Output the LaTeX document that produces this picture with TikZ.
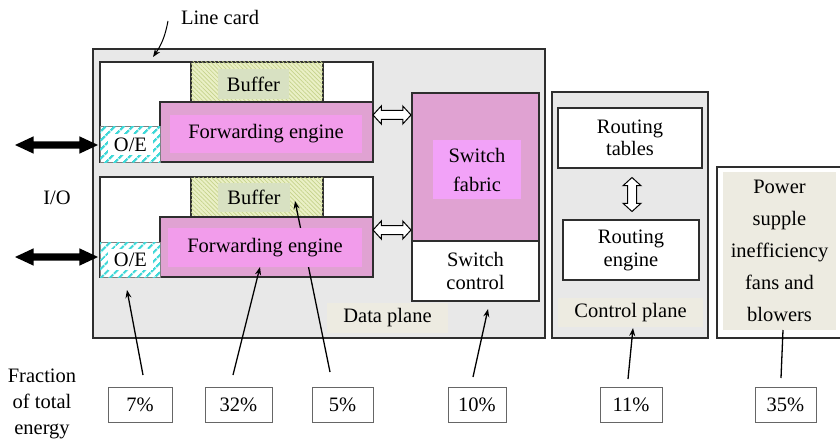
\documentclass[tikz,border=0pt]{standalone}
\usepackage{fontspec}
\setmainfont{Liberation Serif}
\usetikzlibrary{shapes.arrows,patterns.meta,arrows.meta,calc}
\definecolor{bggray}{HTML}{E8E8E8}
\definecolor{bordc}{HTML}{2E2E2E}
\definecolor{fepink}{HTML}{E0A2D2}
\definecolor{felab}{HTML}{F29CEB}
\definecolor{sflab}{HTML}{F2A2F8}
\definecolor{beige}{HTML}{EDEBE1}
\definecolor{bufbase}{HTML}{EAF0C6}
\definecolor{bufline}{HTML}{C6D38C}
\definecolor{buflab}{HTML}{D8E1C2}
\definecolor{oecyan}{HTML}{3FD8D8}
\newcommand\mkbox[7]{\node[#6, anchor=north west, inner sep=0pt, outer sep=0pt, minimum width={(#4-#2)*1pt}, minimum height={(#5-#3)*1pt}] (#1) at (#2,#3) {#7};}
\tikzset{
  every node/.style={font=\fontsize{20.5}{24}\selectfont},
  frame/.style={draw=bordc, line width=1.6pt},
  graybox/.style={frame, fill=bggray},
  whitebox/.style={frame, fill=white},
  febox/.style={frame, fill=fepink},
  felabel/.style={fill=felab},
  bufbox/.style={frame, fill=bufbase, postaction={pattern={Lines[angle=-45,distance=3pt,line width=0.7pt]}, pattern color=bufline}},
  buflabel/.style={fill=buflab},
  oebox/.style={draw=gray, line width=1pt, fill=white, postaction={pattern={Lines[angle=45,distance=6.5pt,line width=2.6pt]}, pattern color=oecyan}},
  beigelabel/.style={fill=beige},
  pctbox/.style={draw=gray!80!black, line width=0.9pt, fill=white},
  conn/.style={draw=black, line width=1.3pt, -{Stealth[length=8pt,width=6pt]}},
  hollow/.style={double arrow, draw=black, fill=white, line width=1pt, inner sep=4pt, double arrow head extend=4.5pt, double arrow tip angle=95},
  ioarrow/.style={double arrow, fill=black, inner sep=3.5pt, minimum height=83pt, double arrow head extend=5pt, double arrow tip angle=50}
}
\begin{document}
\begin{tikzpicture}[x=1pt,y=-1pt]
\useasboundingbox (0,0) rectangle (840,441);
\clip (0,0) rectangle (840,441);
% planes
\mkbox{dp}{93}{49}{545}{338}{graybox}{}
\mkbox{cp}{552}{92}{708}{338}{graybox}{}
\mkbox{pw}{717}{167}{848}{338}{whitebox}{}
\mkbox{pwl}{723}{172}{836}{330}{beigelabel, align=center, font=\fontsize{20.5}{32}\selectfont}{Power\\supple\\inefficiency\\fans and\\blowers}
% line card 1
\mkbox{lc1}{100}{62}{373}{162}{whitebox}{}
\mkbox{buf1}{191}{62}{323}{102}{bufbox}{}
\mkbox{buf1l}{218}{69}{289}{99}{buflabel}{Buffer}
\mkbox{fe1}{160}{102}{373}{162}{febox}{}
\mkbox{fe1l}{170}{115}{362}{153}{felabel}{Forwarding engine}
\mkbox{oe1}{100}{127}{160}{162}{oebox}{}
\mkbox{oe1l}{108}{134}{153}{155}{fill=white}{O/E}
% line card 2
\mkbox{lc2}{100}{177}{373}{277}{whitebox}{}
\mkbox{buf2}{191}{177}{323}{217}{bufbox}{}
\mkbox{buf2l}{218}{183}{290}{212}{buflabel}{Buffer}
\mkbox{fe2}{160}{217}{373}{277}{febox}{}
\coordinate (s5) at (330,372);
\coordinate (t5) at (295,201);
\draw[conn] (s5) -- (t5);
\mkbox{fe2l}{168}{228}{362}{267}{felabel}{Forwarding engine}
\mkbox{oe2}{100}{242}{160}{277}{oebox}{}
\mkbox{oe2l}{108}{249}{153}{270}{fill=white}{O/E}
% switch
\mkbox{sf}{412}{93}{539}{241}{febox}{}
\mkbox{sfl}{433}{140}{521}{199}{fill=sflab, align=center, font=\fontsize{20.5}{29}\selectfont}{Switch\\fabric}
\mkbox{sc}{412}{241}{539}{301}{whitebox, align=center, font=\fontsize{20.5}{23}\selectfont}{Switch\\control}
\mkbox{dpl}{327}{303}{448}{333}{beigelabel}{Data plane}
% control plane
\mkbox{rt}{558}{108}{702}{168}{whitebox, align=center, font=\fontsize{20.5}{22}\selectfont}{Routing\\tables}
\mkbox{re}{563}{220}{699}{280}{whitebox, align=center, font=\fontsize{20.5}{23}\selectfont}{Routing\\engine}
\mkbox{cpl}{558}{298}{703}{327}{beigelabel}{Control plane}
% hollow arrows
\node[hollow, minimum height=38pt] (ha1) at (392,115) {};
\node[hollow, minimum height=38pt] (ha2) at (392,230) {};
\node[hollow, minimum height=34pt, shape border rotate=90] (va) at (632,194.5) {};
% I/O arrows
\node[ioarrow] (io1) at (56.5,145) {};
\node[ioarrow] (io2) at (56.5,257) {};
\node (iol) at (57,198) {I/O};
% line card label
\node (lcl) at (220,17) {Line card};
\coordinate (lcs) at (168,21);
\coordinate (lct) at (153,57);
\draw[conn, line width=1pt] (lcs) to[bend left=12] (lct);
% fraction
\node[align=center, font=\fontsize{20.5}{26}\selectfont] (frac) at (42,404) {Fraction\\of total\\energy};
% percent boxes
\mkbox{p7}{108}{387}{172}{422}{pctbox}{7\%}
\mkbox{p32}{205}{387}{272}{422}{pctbox}{32\%}
\mkbox{p5}{312}{387}{373}{422}{pctbox}{5\%}
\mkbox{p10}{448}{387}{506}{422}{pctbox}{10\%}
\mkbox{p11}{600}{387}{662}{422}{pctbox}{11\%}
\mkbox{p35}{755}{387}{816}{422}{pctbox}{35\%}
% connectors
\coordinate (s7) at (143,375);  \coordinate (t7) at (127,290);
\coordinate (s32) at (233,375); \coordinate (t32) at (260,267);
\coordinate (s10) at (473,377); \coordinate (t10) at (488,309);
\coordinate (s11) at (628,379); \coordinate (t11) at (633,328);
\coordinate (s35) at (781,378); \coordinate (t35) at (783,330);
\draw[conn] (s7) -- (t7);
\draw[conn] (s32) -- (t32);
\draw[conn] (s10) -- (t10);
\draw[conn] (s11) -- (t11);
\draw[line width=1.3pt] (s35) -- (t35);
\end{tikzpicture}
\end{document}
